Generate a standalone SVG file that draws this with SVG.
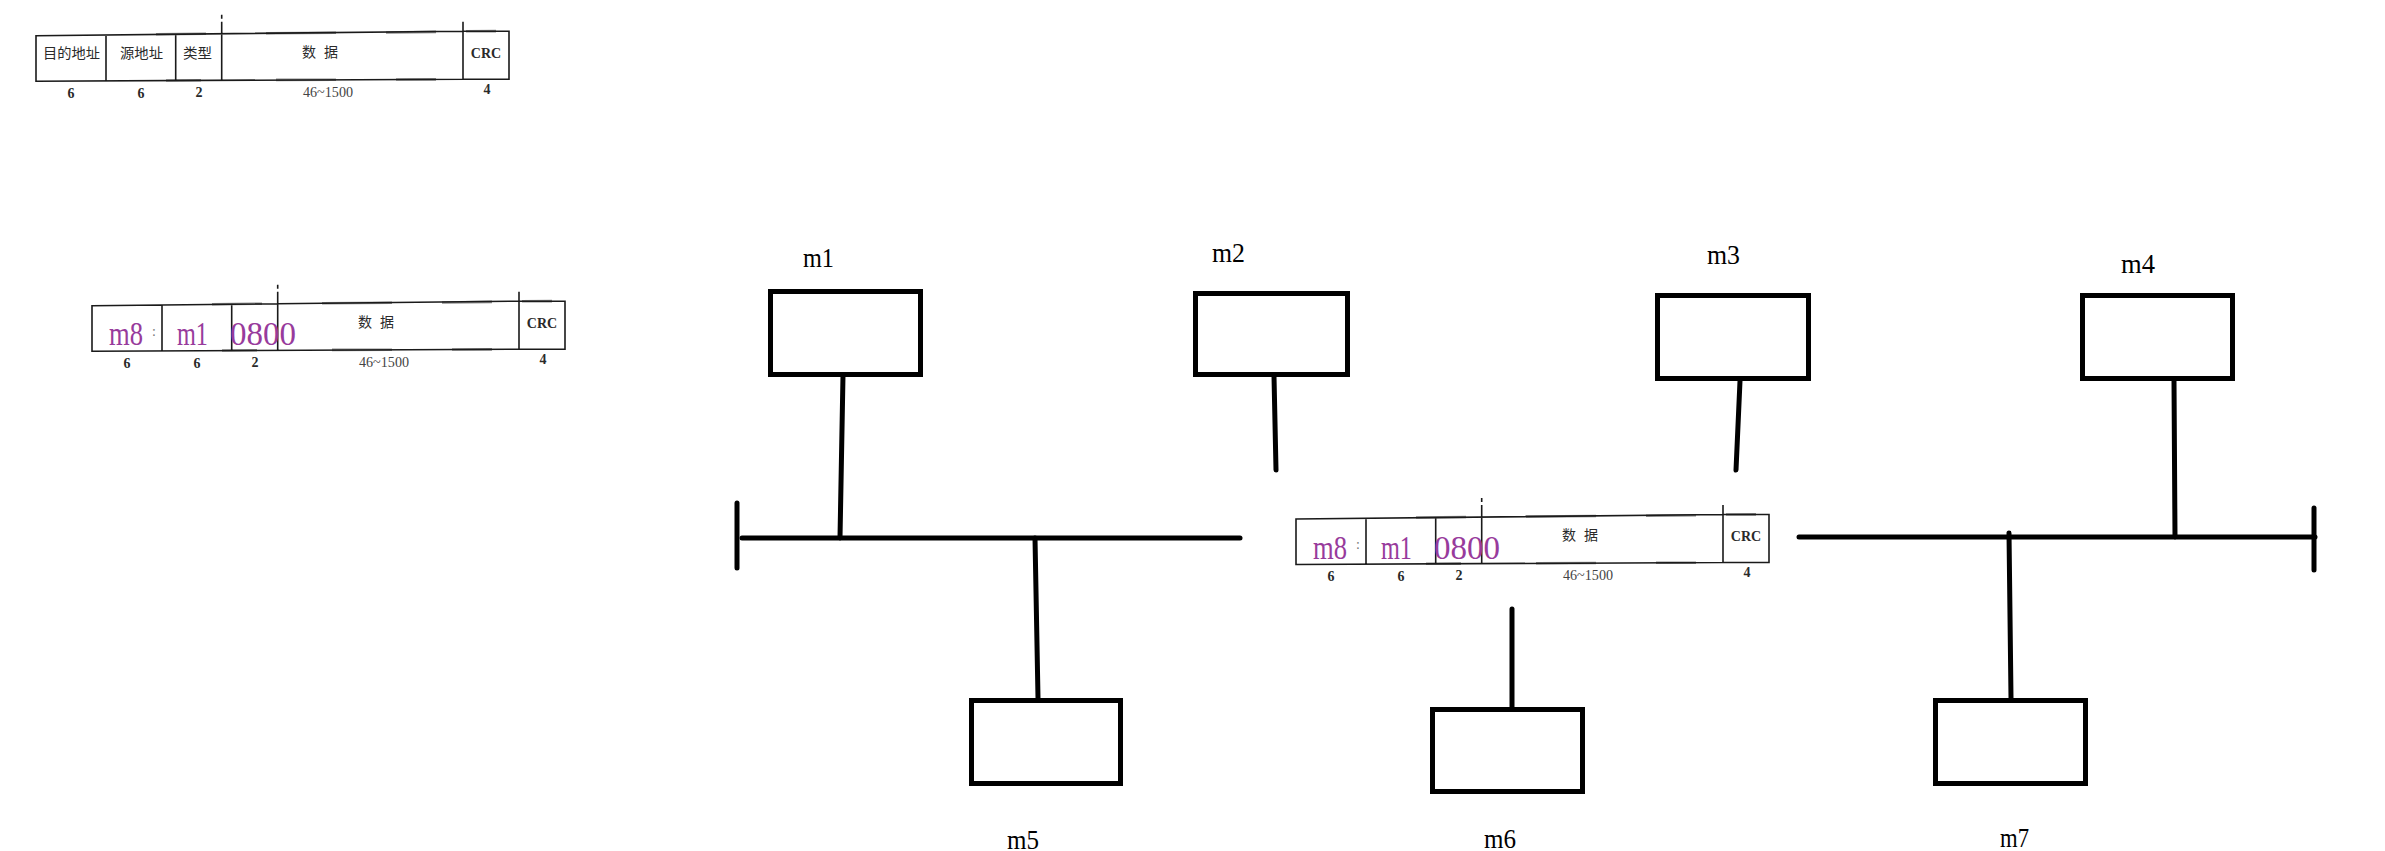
<svg xmlns="http://www.w3.org/2000/svg" xmlns:xlink="http://www.w3.org/1999/xlink" width="2385" height="851" viewBox="0 0 2385 851">
<style>
  .box { fill: #ffffff; stroke: #000000; stroke-width: 5; }
  .wire { stroke: #000000; stroke-width: 5; fill: none; stroke-linecap: round; }
  .lbl { font-family: "Liberation Serif", "DejaVu Serif", serif; font-size: 27px; fill: #000000; }
  .pk { stroke: #1a1a1a; stroke-width: 1.6; fill: none; }
  .pkg { stroke: #8a8a8a; stroke-width: 2.6; fill: none; }
  .cn { font-family: "Noto Sans CJK SC", "Noto Sans", sans-serif; font-size: 14px; fill: #2a2a2a; text-anchor: middle; }
  .num { font-family: "Liberation Serif", "DejaVu Serif", serif; font-size: 14px; font-weight: bold; fill: #2a2a2a; text-anchor: middle; }
  .num2 { font-family: "Liberation Serif", "DejaVu Serif", serif; font-size: 14px; fill: #444444; text-anchor: middle; }
  .crc { font-family: "Liberation Serif", "DejaVu Serif", serif; font-size: 14px; font-weight: bold; fill: #2a2a2a; text-anchor: middle; }
  .pur { font-family: "Liberation Serif", "DejaVu Serif", serif; font-size: 33px; fill: #983b9c; }
  .dot { font-family: "Liberation Serif", "DejaVu Serif", serif; font-size: 14px; fill: #777777; text-anchor: middle; }
</style>
<defs>
  <g id="frame">
    <rect x="0" y="-4.5" width="473" height="50" fill="#ffffff" stroke="none"/>
    <path class="pkg" d="M120,-1.5 L170,-2 M230,-2.5 L300,-3 M350,-3.2 L400,-3.8 M430,-4.5 L460,-4.6 M130,44.8 L165,44.6 M240,44.2 L300,44 M360,43.8 L400,43.7"/>
    <path class="pk" d="M0,0 L427,-4.5 L473,-4.5 V43.5 L427,43.5 L0,45.5 Z M70,-0.7 V45.2 M139.7,-1.4 V44.8 M185.7,-14 V45 M185.7,-21 V-17 M427,-14 V43.5"/>
    <text class="cn" x="284" y="21" textLength="36" lengthAdjust="spacing">数 据</text>
    <text class="crc" x="450" y="22">CRC</text>
    <text class="num" x="35" y="62">6</text>
    <text class="num" x="105" y="62">6</text>
    <text class="num" x="163" y="61">2</text>
    <text class="num2" x="292" y="61" textLength="50" lengthAdjust="spacingAndGlyphs">46~1500</text>
    <text class="num" x="451" y="58">4</text>
  </g>
</defs>

<g id="packet-format" transform="translate(36,35.7)">
  <use xlink:href="#frame"/>
  <text class="cn" x="35.5" y="22" textLength="57" lengthAdjust="spacingAndGlyphs">目的地址</text>
  <text class="cn" x="105.5" y="22" textLength="43" lengthAdjust="spacingAndGlyphs">源地址</text>
  <text class="cn" x="161.5" y="22" textLength="29" lengthAdjust="spacingAndGlyphs">类型</text>
</g>

<g id="packet-example" transform="translate(92,305.7)">
  <use xlink:href="#frame"/>
  <text class="pur" x="17" y="39.5" textLength="34" lengthAdjust="spacingAndGlyphs">m8</text>
  <text class="dot" x="62" y="30">:</text>
  <text class="pur" x="85" y="39.5" textLength="31" lengthAdjust="spacingAndGlyphs">m1</text>
  <text class="pur" x="138" y="39.5" textLength="66" lengthAdjust="spacingAndGlyphs">0800</text>
</g>

<g id="packet-onwire" transform="translate(1296,519)">
  <use xlink:href="#frame"/>
  <text class="pur" x="17" y="39.5" textLength="34" lengthAdjust="spacingAndGlyphs">m8</text>
  <text class="dot" x="62" y="30">:</text>
  <text class="pur" x="85" y="39.5" textLength="31" lengthAdjust="spacingAndGlyphs">m1</text>
  <text class="pur" x="138" y="39.5" textLength="66" lengthAdjust="spacingAndGlyphs">0800</text>
</g>

<g id="bus-left">
  <line class="wire" x1="742" y1="538" x2="1240" y2="538"/>
  <line class="wire" x1="737" y1="503" x2="737" y2="568"/>
</g>
<g id="bus-right">
  <line class="wire" x1="1799" y1="537" x2="2315" y2="537"/>
  <line class="wire" x1="2314" y1="508" x2="2314" y2="570"/>
</g>

<g id="connectors">
  <line class="wire" x1="843" y1="375" x2="840" y2="538"/>
  <line class="wire" x1="1274" y1="376" x2="1276" y2="470"/>
  <line class="wire" x1="1740" y1="381" x2="1736" y2="470"/>
  <line class="wire" x1="2174" y1="381" x2="2175" y2="537"/>
  <line class="wire" x1="1035" y1="538" x2="1038" y2="698"/>
  <line class="wire" x1="1512" y1="609" x2="1512" y2="707"/>
  <line class="wire" x1="2009" y1="533" x2="2011" y2="698"/>
</g>

<g id="m1">
  <rect class="box" x="770.5" y="291.5" width="150" height="83"/>
  <text class="lbl" x="803" y="267" textLength="31" lengthAdjust="spacingAndGlyphs">m1</text>
</g>
<g id="m2">
  <rect class="box" x="1195.5" y="293.5" width="152" height="81"/>
  <text class="lbl" x="1212" y="262" textLength="33" lengthAdjust="spacingAndGlyphs">m2</text>
</g>
<g id="m3">
  <rect class="box" x="1657.5" y="295.5" width="151" height="83"/>
  <text class="lbl" x="1707" y="264" textLength="33" lengthAdjust="spacingAndGlyphs">m3</text>
</g>
<g id="m4">
  <rect class="box" x="2082.5" y="295.5" width="150" height="83"/>
  <text class="lbl" x="2121" y="273" textLength="34" lengthAdjust="spacingAndGlyphs">m4</text>
</g>
<g id="m5">
  <rect class="box" x="971.5" y="700.5" width="149" height="83"/>
  <text class="lbl" x="1007" y="849" textLength="32" lengthAdjust="spacingAndGlyphs">m5</text>
</g>
<g id="m6">
  <rect class="box" x="1432.5" y="709.5" width="150" height="82"/>
  <text class="lbl" x="1484" y="848" textLength="32" lengthAdjust="spacingAndGlyphs">m6</text>
</g>
<g id="m7">
  <rect class="box" x="1935.5" y="700.5" width="150" height="83"/>
  <text class="lbl" x="2000" y="847" textLength="29" lengthAdjust="spacingAndGlyphs">m7</text>
</g>
</svg>
